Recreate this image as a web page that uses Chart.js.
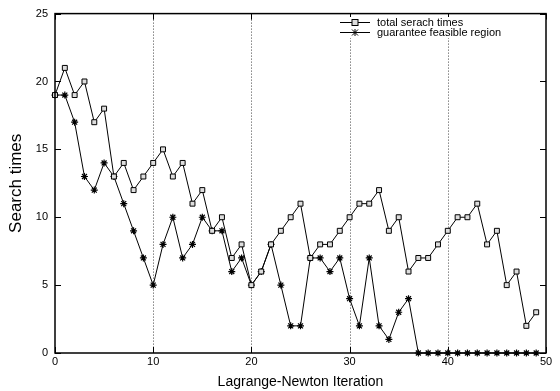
<!DOCTYPE html>
<html>
<head>
<meta charset="utf-8">
<script src="https://cdn.jsdelivr.net/npm/chart.js@4"></script>
<style>
  html, body { margin: 0; padding: 0; background: #fff; }
  #wrap { width: 560px; height: 391px; }
</style>
</head>
<body>
<div id="wrap"><canvas id="searchChart"></canvas></div>
<script>
// Iterations 0..49
const iterations = Array.from({ length: 50 }, (_, i) => i);

const totalSearch = [19, 21, 19, 20, 17, 18, 13, 14, 12, 13,
                     14, 15, 13, 14, 11, 12, 9, 10, 7, 8,
                     5, 6, 8, 9, 10, 11, 7, 8, 8, 9,
                     10, 11, 11, 12, 9, 10, 6, 7, 7, 8,
                     9, 10, 10, 11, 8, 9, 5, 6, 2, 3];

const feasibleRegion = [19, 19, 17, 13, 12, 14, 13, 11, 9, 7,
                        5, 8, 10, 7, 8, 10, 9, 9, 6, 7,
                        5, 6, 8, 5, 2, 2, 7, 7, 6, 7,
                        4, 2, 7, 2, 1, 3, 4, 0, 0, 0,
                        0, 0, 0, 0, 0, 0, 0, 0, 0, 0];

const xTicks = [0, 10, 20, 30, 40, 50];
const yTicks = [0, 5, 10, 15, 20, 25];
const gridX = [10, 20, 30, 40];
const seriesNames = ["total serach times", "guarantee feasible region"];

const FONT = "'Liberation Sans', Arial, sans-serif";

// dotted vertical grid, drawn under the data
const gridPlugin = {
    id: "dottedGrid",
    beforeDatasetsDraw(chart) {
        const ctx = chart.ctx;
        const a = chart.chartArea;
        ctx.save();
        ctx.strokeStyle = "#444";
        ctx.lineWidth = 1;
        ctx.setLineDash([1, 2]);
        ctx.beginPath();
        gridX.forEach(v => {
            const px = Math.round(chart.scales.x.getPixelForValue(v)) + 0.5;
            ctx.moveTo(px, a.top); ctx.lineTo(px, a.bottom);
        });
        ctx.stroke();
        ctx.restore();
    }
};

// frame, inward ticks and legend like the gnuplot original
const framePlugin = {
    id: "frame",
    afterDatasetsDraw(chart) {
        const ctx = chart.ctx;
        const a = chart.chartArea;
        const xs = chart.scales.x, ys = chart.scales.y;
        ctx.save();
        ctx.strokeStyle = "#000";
        ctx.lineWidth = 1;
        ctx.beginPath();
        yTicks.forEach(v => {
            const py = Math.round(ys.getPixelForValue(v)) + 0.5;
            ctx.moveTo(a.left, py); ctx.lineTo(a.left + 6, py);
            ctx.moveTo(a.right, py); ctx.lineTo(a.right - 6, py);
        });
        xTicks.forEach(v => {
            const px = Math.round(xs.getPixelForValue(v)) + 0.5;
            ctx.moveTo(px, a.bottom); ctx.lineTo(px, a.bottom - 6);
            ctx.moveTo(px, a.top); ctx.lineTo(px, a.top + 6);
        });
        ctx.stroke();
        ctx.lineWidth = 1.5;
        ctx.strokeRect(a.left, a.top, a.right - a.left, a.bottom - a.top);

        // legend on a white patch
        ctx.fillStyle = "#fff";
        ctx.fillRect(336, 17, 170, 21);
        ctx.font = "11px " + FONT;
        ctx.textBaseline = "middle";
        ctx.lineWidth = 1;
        seriesNames.forEach((name, i) => {
            const y = 22.5 + i * 10;
            ctx.strokeStyle = "#000";
            ctx.beginPath();
            ctx.moveTo(340, y); ctx.lineTo(370, y);
            ctx.stroke();
            if (i === 0) {
                ctx.fillStyle = "#ddd";
                ctx.fillRect(352, y - 3, 6, 6);
                ctx.strokeRect(352, y - 3, 6, 6);
            } else {
                ctx.beginPath();
                ctx.moveTo(352, y - 3); ctx.lineTo(358, y + 3);
                ctx.moveTo(358, y - 3); ctx.lineTo(352, y + 3);
                ctx.moveTo(355, y - 3.5); ctx.lineTo(355, y + 3.5);
                ctx.stroke();
            }
            ctx.fillStyle = "#000";
            ctx.fillText(name, 377, y);
        });
        ctx.restore();
    }
};

const ctx = document.getElementById("searchChart").getContext("2d");

new Chart(ctx, {
    type: "line",
    data: {
        datasets: [
            {
                label: seriesNames[0],
                data: iterations.map((x, i) => ({ x: x, y: totalSearch[i] })),
                borderColor: "#000",
                borderWidth: 1,
                pointStyle: "rect",
                pointRadius: 3.5,
                pointBackgroundColor: "#ddd",
                pointBorderColor: "#000",
                pointBorderWidth: 1,
                tension: 0,
                clip: false
            },
            {
                label: seriesNames[1],
                data: iterations.map((x, i) => ({ x: x, y: feasibleRegion[i] })),
                borderColor: "#000",
                borderWidth: 1,
                pointStyle: "star",
                pointRadius: 3.5,
                pointBorderColor: "#000",
                pointBorderWidth: 1.2,
                tension: 0,
                clip: false
            }
        ]
    },
    options: {
        responsive: true,
        maintainAspectRatio: false,
        animation: false,
        layout: { padding: { top: 12, right: 14, left: 0, bottom: 0 } },
        plugins: {
            legend: { display: false },
            tooltip: { enabled: false }
        },
        scales: {
            x: {
                type: "linear",
                min: 0,
                max: 50,
                afterFit: s => { s.height = 38; },
                afterBuildTicks: s => { s.ticks = xTicks.map(v => ({ value: v })); },
                ticks: { color: "#000", font: { family: FONT, size: 11 }, padding: 2, maxRotation: 0 },
                grid: { display: false, drawTicks: false },
                border: { display: false },
                title: {
                    display: true,
                    text: "Lagrange-Newton Iteration",
                    color: "#000",
                    font: { family: FONT, size: 14 },
                    padding: { top: 0, bottom: 0 }
                }
            },
            y: {
                min: 0,
                max: 25,
                afterFit: s => { s.width = 55; },
                afterBuildTicks: s => { s.ticks = yTicks.map(v => ({ value: v })); },
                ticks: { color: "#000", font: { family: FONT, size: 11 }, padding: 7 },
                grid: { display: false, drawTicks: false },
                border: { display: false },
                title: {
                    display: true,
                    text: "Search times",
                    color: "#000",
                    font: { family: FONT, size: 17 },
                    padding: { top: 6, bottom: 0 }
                }
            }
        }
    },
    plugins: [gridPlugin, framePlugin]
});
</script>
</body>
</html>
